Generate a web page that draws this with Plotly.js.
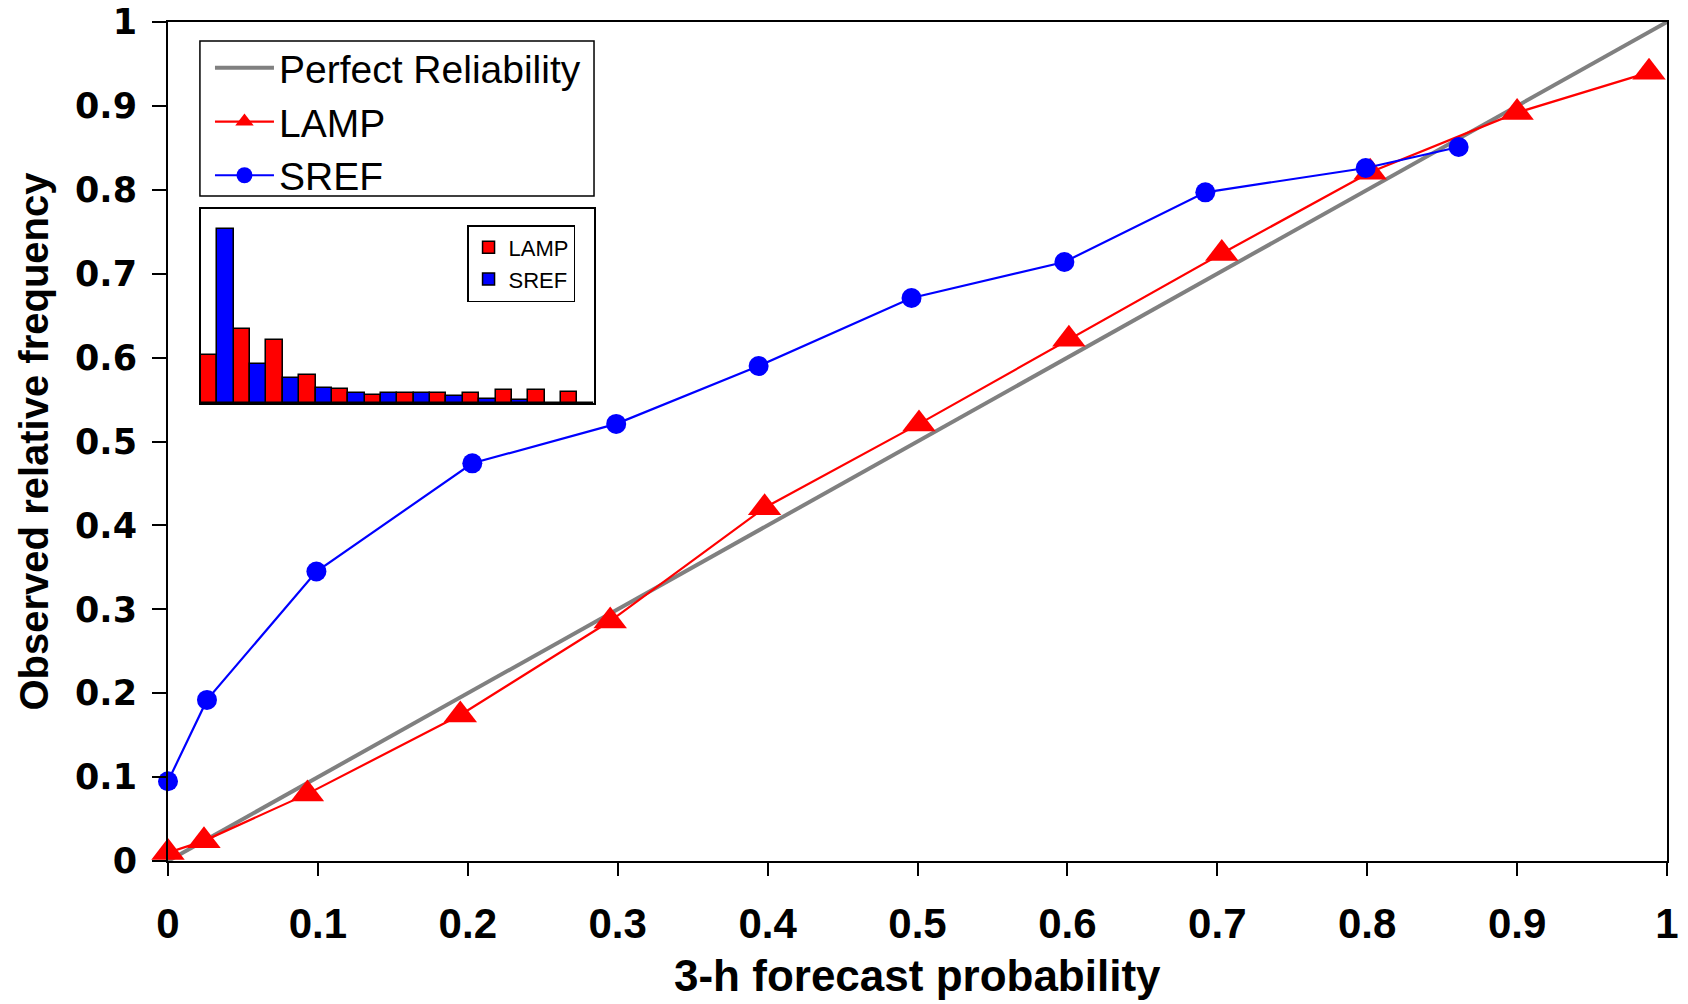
<!DOCTYPE html>
<html>
<head>
<meta charset="utf-8">
<script src="https://cdn.plot.ly/plotly-3.0.1.min.js"></script>
<style>html,body{margin:0;padding:0;background:#fff;}#chart{width:1688px;height:1004px;}</style>
</head>
<body>
<div id="chart"></div>
<script>
// Perfect reliability diagonal
const perfectX = [0, 1];
const perfectY = [0, 1];

// LAMP reliability curve
const lampProb = [0, 0.024, 0.093, 0.195, 0.295, 0.398, 0.501, 0.601, 0.703, 0.802, 0.900, 0.988];
const lampFreq = [0.010, 0.024, 0.080, 0.174, 0.286, 0.421, 0.521, 0.622, 0.724, 0.821, 0.892, 0.940];

// SREF reliability curve
const srefProb = [0, 0.026, 0.099, 0.203, 0.299, 0.394, 0.496, 0.598, 0.692, 0.799, 0.861];
const srefFreq = [0.095, 0.192, 0.345, 0.474, 0.521, 0.590, 0.671, 0.714, 0.797, 0.826, 0.851];

// Inset histogram (forecast frequency per bin, %)
const binIndex = [1, 2, 3, 4, 5, 6, 7, 8, 9, 10, 11, 12];
const lampCount = [16.0, 25.0, 21.2, 9.4, 4.6, 2.7, 3.3, 3.3, 3.3, 4.2, 4.2, 3.7];
const srefCount = [58.8, 13.1, 8.4, 5.1, 3.3, 3.3, 3.3, 2.4, 1.3, 0.9, 0.1, 0];

const axisTicks = [0, 0.1, 0.2, 0.3, 0.4, 0.5, 0.6, 0.7, 0.8, 0.9, 1];
const axisTickText = ['0', '0.1', '0.2', '0.3', '0.4', '0.5', '0.6', '0.7', '0.8', '0.9', '1'];
const xTitle = '3-h forecast probability';
const yTitle = 'Observed relative frequency';

const data = [
  {x: perfectX, y: perfectY, type: 'scatter', mode: 'lines', name: 'Perfect Reliability',
   line: {color: '#808080', width: 4}, legend: 'legend', cliponaxis: false},
  {x: lampProb, y: lampFreq, type: 'scatter', mode: 'lines+markers', name: 'LAMP',
   line: {color: '#ff0000', width: 2.2}, marker: {symbol: 'triangle-up', size: 29, color: '#ff0000'},
   legend: 'legend', cliponaxis: false},
  {x: srefProb, y: srefFreq, type: 'scatter', mode: 'lines+markers', name: 'SREF',
   line: {color: '#0000ff', width: 2.2}, marker: {symbol: 'circle', size: 20, color: '#0000ff'},
   legend: 'legend', cliponaxis: false},
  {x: binIndex, y: lampCount, type: 'bar', name: 'LAMP', xaxis: 'x2', yaxis: 'y2',
   marker: {color: '#ff0000', line: {color: '#000000', width: 1.5}}, legend: 'legend2'},
  {x: binIndex, y: srefCount, type: 'bar', name: 'SREF', xaxis: 'x2', yaxis: 'y2',
   marker: {color: '#0000ff', line: {color: '#000000', width: 1.5}}, legend: 'legend2'}
];

const layout = {
  width: 1688, height: 1004,
  margin: {l: 168, r: 21, t: 22, b: 143},
  paper_bgcolor: '#ffffff', plot_bgcolor: '#ffffff',
  font: {family: 'Liberation Sans, Arial, sans-serif', color: '#000000'},
  showlegend: true,
  barmode: 'group', bargap: 0, bargroupgap: 0,
  xaxis: {
    range: [0, 1], tickvals: axisTicks, ticktext: axisTickText,
    showgrid: false, zeroline: false, showline: true, mirror: true,
    linecolor: '#000000', linewidth: 2,
    ticks: 'outside', ticklen: 13, tickwidth: 1.5, tickcolor: '#000000',
    ticklabelstandoff: 12,
    tickfont: {family: 'Liberation Sans, Arial, sans-serif', size: 42, color: '#000000', weight: 'bold'}
  },
  yaxis: {
    range: [0, 1], tickvals: axisTicks, ticktext: axisTickText,
    showgrid: false, zeroline: false, showline: true, mirror: true,
    linecolor: '#000000', linewidth: 2,
    ticks: 'outside', ticklen: 14, tickwidth: 1.5, tickcolor: '#000000',
    ticklabelstandoff: 8,
    tickfont: {family: 'DejaVu Sans, sans-serif', size: 35, color: '#000000', weight: 'bold'},
    title: {text: yTitle, standoff: 14,
      font: {family: 'Liberation Sans, Arial, sans-serif', size: 40, color: '#000000', weight: 'bold'}}
  },
  xaxis2: {
    domain: [0.022, 0.284], anchor: 'y2', range: [0.5, 12.5],
    showticklabels: false, ticks: '', showgrid: false, zeroline: false,
    showline: true, mirror: true, linecolor: '#000000', linewidth: 1.5
  },
  yaxis2: {
    domain: [0.546, 0.777], anchor: 'x2', range: [0, 65.4],
    showticklabels: false, ticks: '', showgrid: false, zeroline: false,
    showline: true, mirror: true, linecolor: '#000000', linewidth: 1.5
  },
  annotations: [
    {text: xTitle, xref: 'paper', yref: 'paper', x: 0.5, y: -0.137,
     xanchor: 'center', yanchor: 'middle', showarrow: false,
     font: {family: 'Liberation Sans, Arial, sans-serif', size: 44, color: '#000000', weight: 'bold'}}
  ],
  shapes: [
    {type: 'rect', xref: 'paper', yref: 'paper', x0: 0.0213, x1: 0.2842, y0: 0.7926, y1: 0.9774,
     line: {color: '#000000', width: 1.5}, fillcolor: '#ffffff', layer: 'below'}
  ],
  legend: {
    x: 0.028, y: 0.9833, xanchor: 'left', yanchor: 'top',
    bgcolor: 'rgba(0,0,0,0)', borderwidth: 0,
    font: {family: 'Liberation Sans, Arial, sans-serif', size: 39, color: '#000000'},
    tracegroupgap: 0, itemwidth: 59
  },
  legend2: {
    x: 0.1995, y: 0.758, xanchor: 'left', yanchor: 'top',
    bgcolor: '#ffffff', bordercolor: '#000000', borderwidth: 1.5,
    font: {family: 'Liberation Sans, Arial, sans-serif', size: 22, color: '#000000'},
    tracegroupgap: 0, itemwidth: 30
  }
};

Plotly.newPlot('chart', data, layout, {displayModeBar: false, responsive: false});
</script>
</body>
</html>
